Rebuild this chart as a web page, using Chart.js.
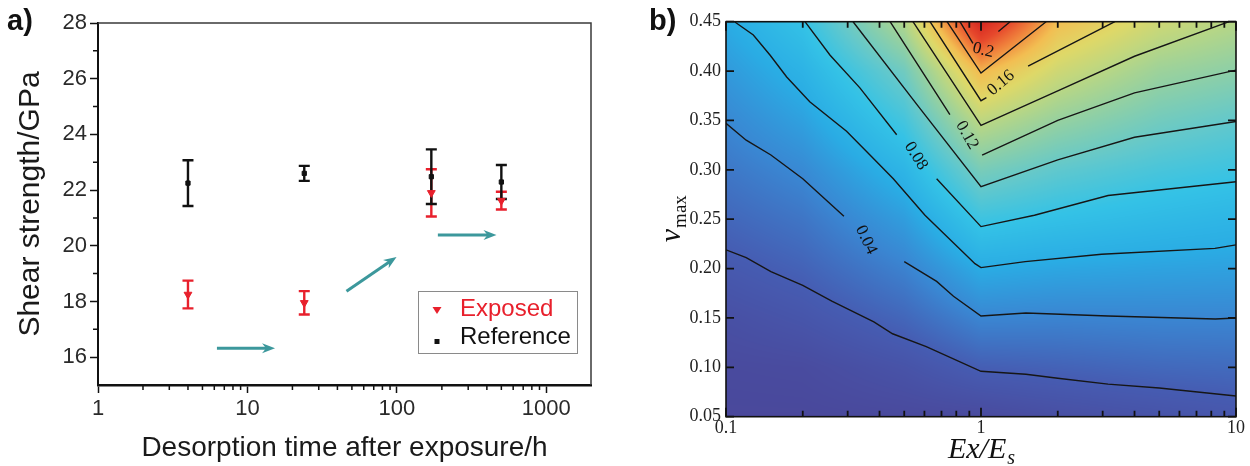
<!DOCTYPE html>
<html>
<head>
<meta charset="utf-8">
<script src="https://cdn.jsdelivr.net/npm/chart.js@4.4.1/dist/chart.umd.min.js"></script>
<style>
  html, body { margin: 0; padding: 0; background: #fff; }
  #wrap { position: relative; width: 1250px; height: 466px; overflow: hidden; }
  #panelA { position: absolute; left: 0; top: 0; }
  #panelB { position: absolute; left: 640px; top: 0; }
  .tag { position: absolute; top: 4px; font: bold 29px "Liberation Sans", Arial, sans-serif; color: #111; }
</style>
</head>
<body>
<div id="wrap">
  <canvas id="panelA" width="620" height="466"></canvas>
  <canvas id="panelB" width="610" height="466"></canvas>
  <div class="tag" style="left:7px">a)</div>
  <div class="tag" style="left:649px">b)</div>
</div>
<script>
// ---------- panel a: shear strength vs desorption time ----------
const desorptionHours = [4, 24, 170, 500];
const exposedStrength = [18.25, 17.95, 21.9, 21.62];
const exposedError = [0.5, 0.42, 0.85, 0.32];
const referenceStrength = [22.25, 22.6, 22.48, 22.29];
const referenceError = [0.82, 0.27, 0.98, 0.61];

const hourTicks = [1, 10, 100, 1000];
const hourMinorTicks = [2, 3, 4, 5, 6, 7, 8, 9, 20, 30, 40, 50, 60, 70, 80, 90, 200, 300, 400, 500, 600, 700, 800, 900];
const strengthTicks = [16, 18, 20, 22, 24, 26, 28];
const strengthMinorTicks = [17, 19, 21, 23, 25, 27];

// trend arrows (start -> end, in hours / GPa)
const arrowFromHours = [6.25, 46, 188];
const arrowFromStrength = [16.32, 18.37, 20.39];
const arrowToHours = [15.3, 99.5, 464];
const arrowToStrength = [16.32, 19.6, 20.39];

// ---------- panel b: contour map over Ex/Es and nu_max ----------
const stiffnessTicks = [0.1, 1, 10];
const stiffnessMinorTicks = [0.2, 0.3, 0.4, 0.5, 0.6, 0.7, 0.8, 0.9, 2, 3, 4, 5, 6, 7, 8, 9];
const poissonTicks = [0.05, 0.10, 0.15, 0.20, 0.25, 0.30, 0.35, 0.40, 0.45];

// sampled field: one row per gridPoisson value, one column per gridStiffness value
const gridStiffness = [0.1, 0.2, 0.5, 1, 2, 5, 10];
const gridPoisson = [0.05, 0.10, 0.15, 0.20, 0.25, 0.30, 0.35, 0.40, 0.45];
const fieldRows = [
  [0.002, 0.002, 0.003, 0.004, 0.008, 0.012, 0.015],
  [0.004, 0.005, 0.012, 0.021, 0.023, 0.026, 0.027],
  [0.009, 0.014, 0.025, 0.040, 0.039, 0.040, 0.040],
  [0.017, 0.023, 0.038, 0.060, 0.057, 0.055, 0.054],
  [0.025, 0.032, 0.052, 0.084, 0.078, 0.072, 0.068],
  [0.033, 0.042, 0.068, 0.111, 0.099, 0.089, 0.084],
  [0.041, 0.054, 0.087, 0.144, 0.125, 0.108, 0.100],
  [0.050, 0.066, 0.107, 0.183, 0.152, 0.128, 0.120],
  [0.060, 0.080, 0.138, 0.245, 0.180, 0.152, 0.140]
];

// contour polylines as [Ex/Es, nu_max]; null leaves room for a level label
const contour002 = [[0.1, 0.219], [0.12, 0.211], [0.15, 0.197], [0.2, 0.183], [0.26, 0.167], [0.38, 0.146], [0.45, 0.134], [0.61, 0.121], [1, 0.096], [1.5, 0.093], [2, 0.089], [3.15, 0.083], [5, 0.079], [10, 0.071]];
const contour004 = [[0.1, 0.347], [0.12, 0.33], [0.15, 0.315], [0.2, 0.291], [0.29, 0.253], null, [0.5, 0.207], [0.67, 0.187], [0.78, 0.172], [1, 0.152], [1.5, 0.155], [3.15, 0.152], [8.3, 0.149], [10, 0.15]];
const contour006 = [[0.108, 0.45], [0.128, 0.4365], [0.149, 0.416], [0.173, 0.394], [0.213, 0.369], [0.297, 0.339], [0.367, 0.315], [0.453, 0.291], [0.603, 0.254], [0.947, 0.205], [1, 0.201], [1.49, 0.207], [2.97, 0.2145], [8.27, 0.2205], [10, 0.224]];
const contour008 = [[0.204, 0.45], [0.256, 0.416], [0.335, 0.383], [0.467, 0.3355], null, [0.67, 0.291], [1, 0.2425], [1.62, 0.254], [3.15, 0.274], [10, 0.288]];
const contour010 = [[0.315, 0.45], [0.561, 0.366], [1, 0.283], [2, 0.31], [4, 0.333], [10, 0.349]];
const contour012 = [[0.44, 0.45], [0.755, 0.356], null, [1.01, 0.315], [2, 0.35], [4, 0.378], [10, 0.401]];
const contour014 = [[0.541, 0.45], [1, 0.345], [2, 0.38], [4, 0.415], [9.4, 0.45]];
const contour016 = [[0.631, 0.45], [1, 0.37], [1.05, 0.373], null, [1.53, 0.405], [3.35, 0.45]];
const contour018 = [[0.736, 0.45], [1, 0.398], [1.8, 0.45]];
const contour020 = [[0.827, 0.45], [0.93, 0.428], null, [1.17, 0.44], [1.3, 0.45]];

const contourLabelText = ["0.04", "0.08", "0.12", "0.16", "0.2"];
const contourLabelStiffness = [0.354, 0.556, 0.881, 1.197, 1.02];
const contourLabelPoisson = [0.229, 0.314, 0.335, 0.388, 0.421];

// ---------- styling ----------
const RED = "#e8202c";
const INK = "#111";
const TEAL = "#3c989c";
const SANS = '"Liberation Sans", Arial, sans-serif';
const SERIF = '"Liberation Serif", "Times New Roman", serif';
const labelAngles = [64, 58, 60, -40, 14];

const colourStops = [
  [0.00, [74, 70, 153]],
  [0.02, [70, 92, 178]],
  [0.04, [58, 134, 210]],
  [0.06, [42, 172, 228]],
  [0.08, [52, 194, 230]],
  [0.10, [98, 200, 204]],
  [0.12, [140, 207, 168]],
  [0.14, [182, 214, 134]],
  [0.16, [222, 216, 104]],
  [0.18, [242, 190, 82]],
  [0.20, [240, 130, 60]],
  [0.22, [230, 72, 44]],
  [0.24, [216, 44, 34]]
];

function colourFor(v) {
  if (v <= colourStops[0][0]) return colourStops[0][1];
  for (let k = 1; k < colourStops.length; k++) {
    if (v <= colourStops[k][0]) {
      const [v0, c0] = colourStops[k - 1], [v1, c1] = colourStops[k];
      const t = (v - v0) / (v1 - v0);
      return [0, 1, 2].map(n => c0[n] + (c1[n] - c0[n]) * t);
    }
  }
  return colourStops[colourStops.length - 1][1];
}

const clamp01 = t => Math.max(0, Math.min(1, t));
const logCols = gridStiffness.map(Math.log10);

function fieldValue(lx, v) {
  let i = 0;
  while (i < logCols.length - 2 && lx > logCols[i + 1]) i++;
  let j = 0;
  while (j < gridPoisson.length - 2 && v > gridPoisson[j + 1]) j++;
  const tx = clamp01((lx - logCols[i]) / (logCols[i + 1] - logCols[i]));
  const ty = clamp01((v - gridPoisson[j]) / (gridPoisson[j + 1] - gridPoisson[j]));
  const lo = fieldRows[j][i] * (1 - tx) + fieldRows[j][i + 1] * tx;
  const hi = fieldRows[j + 1][i] * (1 - tx) + fieldRows[j + 1][i + 1] * tx;
  return lo * (1 - ty) + hi * ty;
}

function toPoints(line) {
  const pts = [];
  line.forEach((p, k) => {
    if (p) pts.push({ x: p[0], y: p[1] });
    else pts.push({ x: line[k - 1][0], y: null });
  });
  return pts;
}

// ---------- panel a plugins ----------
const errorBars = {
  id: "errorBars",
  beforeDatasetsDraw(chart) {
    const { ctx, scales: { x, y } } = chart;
    ctx.save();
    ctx.lineWidth = 2.4;
    chart.data.datasets.forEach(ds => {
      ctx.strokeStyle = ds.borderColor;
      ds.data.forEach((p, j) => {
        const px = x.getPixelForValue(p.x);
        const top = y.getPixelForValue(p.y + ds.errors[j]);
        const bot = y.getPixelForValue(p.y - ds.errors[j]);
        ctx.beginPath();
        ctx.moveTo(px, top); ctx.lineTo(px, bot);
        ctx.moveTo(px - 5.5, top); ctx.lineTo(px + 5.5, top);
        ctx.moveTo(px - 5.5, bot); ctx.lineTo(px + 5.5, bot);
        ctx.stroke();
      });
    });
    ctx.restore();
  }
};

const trendArrows = {
  id: "trendArrows",
  afterDatasetsDraw(chart) {
    const { ctx, scales: { x, y } } = chart;
    ctx.save();
    ctx.strokeStyle = TEAL;
    ctx.fillStyle = TEAL;
    ctx.lineWidth = 3;
    arrowFromHours.forEach((h, i) => {
      const x0 = x.getPixelForValue(h), y0 = y.getPixelForValue(arrowFromStrength[i]);
      const x1 = x.getPixelForValue(arrowToHours[i]), y1 = y.getPixelForValue(arrowToStrength[i]);
      const a = Math.atan2(y1 - y0, x1 - x0), c = Math.cos(a), s = Math.sin(a);
      ctx.beginPath();
      ctx.moveTo(x0, y0);
      ctx.lineTo(x1 - 8 * c, y1 - 8 * s);
      ctx.stroke();
      ctx.beginPath();
      ctx.moveTo(x1, y1);
      ctx.lineTo(x1 - 13 * c + 5 * s, y1 - 13 * s - 5 * c);
      ctx.lineTo(x1 - 9 * c, y1 - 9 * s);
      ctx.lineTo(x1 - 13 * c - 5 * s, y1 - 13 * s + 5 * c);
      ctx.closePath();
      ctx.fill();
    });
    ctx.restore();
  }
};

const frameA = {
  id: "frameA",
  afterDraw(chart) {
    const { ctx, chartArea: a, scales: { x, y } } = chart;
    ctx.save();
    ctx.strokeStyle = "#3a3a3a";
    ctx.lineWidth = 1.5;
    ctx.beginPath();
    ctx.moveTo(a.left, a.top); ctx.lineTo(a.right, a.top); ctx.lineTo(a.right, a.bottom);
    ctx.stroke();
    ctx.strokeStyle = INK;
    ctx.beginPath();
    strengthMinorTicks.forEach(v => {
      const py = y.getPixelForValue(v);
      ctx.moveTo(a.left - 5, py); ctx.lineTo(a.left, py);
    });
    hourMinorTicks.forEach(v => {
      const px = x.getPixelForValue(v);
      ctx.moveTo(px, a.bottom); ctx.lineTo(px, a.bottom + 5);
    });
    ctx.stroke();
    ctx.restore();
  }
};

const legendA = {
  id: "legendA",
  afterDraw(chart) {
    const { ctx, chartArea: a } = chart;
    const w = 159, h = 62, bx = a.right - 14 - w, by = a.bottom - 32 - h;
    ctx.save();
    ctx.fillStyle = "#fff";
    ctx.fillRect(bx, by, w, h);
    ctx.strokeStyle = "#8a8a8a";
    ctx.lineWidth = 1;
    ctx.strokeRect(bx + 0.5, by + 0.5, w, h);
    ctx.font = "24px " + SANS;
    ctx.textBaseline = "middle";
    chart.data.datasets.forEach((ds, i) => {
      const cy = by + 18 + i * 28, mx = bx + 19;
      ctx.fillStyle = ds.backgroundColor;
      ctx.beginPath();
      if (ds.pointStyle === "triangle") {
        ctx.moveTo(mx - 4.5, cy - 2); ctx.lineTo(mx + 4.5, cy - 2); ctx.lineTo(mx, cy + 5);
      } else {
        ctx.rect(mx - 2.5, cy + 2, 5, 5);
      }
      ctx.fill();
      ctx.fillStyle = ds.borderColor;
      ctx.fillText(ds.label, bx + 42, cy);
    });
    ctx.restore();
  }
};

new Chart(document.getElementById("panelA"), {
  type: "scatter",
  data: {
    datasets: [
      {
        label: "Exposed",
        data: desorptionHours.map((h, i) => ({ x: h, y: exposedStrength[i] })),
        errors: exposedError,
        backgroundColor: RED,
        borderColor: RED,
        pointStyle: "triangle",
        rotation: 180,
        pointRadius: 4.5
      },
      {
        label: "Reference",
        data: desorptionHours.map((h, i) => ({ x: h, y: referenceStrength[i] })),
        errors: referenceError,
        backgroundColor: INK,
        borderColor: INK,
        pointStyle: "rect",
        pointRadius: 3
      }
    ]
  },
  options: {
    responsive: false,
    animation: false,
    events: [],
    layout: { padding: { top: 23, right: 29, left: 0, bottom: 0 } },
    plugins: { legend: { display: false }, tooltip: { enabled: false } },
    scales: {
      x: {
        type: "logarithmic",
        min: 1,
        max: 1990,
        afterBuildTicks: s => { s.ticks = hourTicks.map(v => ({ value: v })); },
        afterFit: s => { s.height = 81; },
        ticks: { callback: v => String(v), font: { family: SANS, size: 22 }, color: "#2a2a2a", padding: 3, maxRotation: 0, autoSkip: false },
        grid: { drawOnChartArea: false, drawTicks: true, tickLength: 8, tickWidth: 1.5, tickColor: INK },
        border: { display: true, width: 2.5, color: INK },
        title: { display: true, text: "Desorption time after exposure/h", font: { family: SANS, size: 28 }, color: "#1a1a1a", padding: { top: 0, bottom: 1 } }
      },
      y: {
        type: "linear",
        min: 15,
        max: 28,
        afterBuildTicks: s => { s.ticks = strengthTicks.map(v => ({ value: v })); },
        afterFit: s => { s.width = 98; },
        ticks: { font: { family: SANS, size: 22 }, color: "#2a2a2a", padding: 3 },
        grid: { drawOnChartArea: false, drawTicks: true, tickLength: 8, tickWidth: 1.5, tickColor: INK },
        border: { display: true, width: 2, color: INK },
        title: { display: true, text: "Shear strength/GPa", font: { family: SANS, size: 30 }, color: "#1a1a1a", padding: { top: 13, bottom: 0 } }
      }
    }
  },
  plugins: [errorBars, trendArrows, frameA, legendA]
});

// ---------- panel b plugins ----------
const fieldShading = {
  id: "fieldShading",
  beforeDatasetsDraw(chart) {
    const { ctx, chartArea: a, scales: { x, y } } = chart;
    const x0 = Math.round(a.left), y0 = Math.round(a.top);
    const w = Math.round(a.right) - x0, h = Math.round(a.bottom) - y0;
    const img = ctx.createImageData(w, h);
    for (let j = 0; j < h; j++) {
      const v = y.getValueForPixel(y0 + j + 0.5);
      for (let i = 0; i < w; i++) {
        const lx = Math.log10(x.getValueForPixel(x0 + i + 0.5));
        const c = colourFor(fieldValue(lx, v));
        const k = (j * w + i) * 4;
        img.data[k] = c[0]; img.data[k + 1] = c[1]; img.data[k + 2] = c[2]; img.data[k + 3] = 255;
      }
    }
    ctx.putImageData(img, x0, y0);
  }
};

const contourLabels = {
  id: "contourLabels",
  afterDatasetsDraw(chart) {
    const { ctx, scales: { x, y } } = chart;
    ctx.save();
    ctx.fillStyle = INK;
    ctx.font = "17px " + SERIF;
    ctx.textAlign = "center";
    ctx.textBaseline = "middle";
    contourLabelText.forEach((t, i) => {
      ctx.save();
      ctx.translate(x.getPixelForValue(contourLabelStiffness[i]), y.getPixelForValue(contourLabelPoisson[i]));
      ctx.rotate(labelAngles[i] * Math.PI / 180);
      ctx.fillText(t, 0, 0);
      ctx.restore();
    });
    ctx.restore();
  }
};

const frameB = {
  id: "frameB",
  afterDraw(chart) {
    const { ctx, chartArea: a, scales: { x, y } } = chart;
    ctx.save();
    ctx.strokeStyle = INK;
    ctx.lineWidth = 1.6;
    ctx.strokeRect(a.left, a.top, a.right - a.left, a.bottom - a.top);
    ctx.lineWidth = 1.8;
    ctx.beginPath();
    const xTick = (v, len) => {
      const px = x.getPixelForValue(v);
      ctx.moveTo(px, a.bottom); ctx.lineTo(px, a.bottom - len);
      ctx.moveTo(px, a.top); ctx.lineTo(px, a.top + len);
    };
    stiffnessTicks.forEach(v => xTick(v, 9));
    stiffnessMinorTicks.forEach(v => xTick(v, 6));
    poissonTicks.forEach(v => {
      const py = y.getPixelForValue(v);
      ctx.moveTo(a.left, py); ctx.lineTo(a.left + 8, py);
      ctx.moveTo(a.right, py); ctx.lineTo(a.right - 8, py);
    });
    ctx.stroke();

    // axis titles with subscripts
    ctx.fillStyle = INK;
    ctx.textAlign = "left";
    ctx.textBaseline = "alphabetic";
    const big = "italic 30px " + SERIF, small = "italic 20px " + SERIF;
    ctx.font = big;
    const wMain = ctx.measureText("Ex/E").width;
    ctx.font = small;
    const wSub = ctx.measureText("s").width;
    let sx = (a.left + a.right) / 2 - (wMain + wSub) / 2;
    const by = a.bottom + 41;
    ctx.font = big; ctx.fillText("Ex/E", sx, by);
    ctx.font = small; ctx.fillText("s", sx + wMain + 1, by + 6);

    ctx.translate(a.left - 46, (a.top + a.bottom) / 2);
    ctx.rotate(-Math.PI / 2);
    const nuFont = "italic 30px " + SERIF, maxFont = "19px " + SERIF;
    ctx.font = nuFont;
    const wNu = ctx.measureText("\u03bd").width;
    ctx.font = maxFont;
    const wMax = ctx.measureText("max").width;
    sx = -(wNu + wMax) / 2;
    ctx.font = nuFont; ctx.fillText("\u03bd", sx, 0);
    ctx.font = maxFont; ctx.fillText("max", sx + wNu + 1, 6);
    ctx.restore();
  }
};

const contourLines = [contour002, contour004, contour006, contour008, contour010, contour012, contour014, contour016, contour018, contour020];

new Chart(document.getElementById("panelB"), {
  type: "scatter",
  data: {
    datasets: contourLines.map(line => ({
      data: toPoints(line),
      showLine: true,
      spanGaps: false,
      borderColor: "#161616",
      borderWidth: 1.4,
      pointRadius: 0,
      tension: 0
    }))
  },
  options: {
    responsive: false,
    animation: false,
    events: [],
    layout: { padding: { top: 21.7, right: 14, left: 0, bottom: 0 } },
    plugins: { legend: { display: false }, tooltip: { enabled: false } },
    scales: {
      x: {
        type: "logarithmic",
        min: 0.1,
        max: 10,
        afterBuildTicks: s => { s.ticks = stiffnessTicks.map(v => ({ value: v })); },
        afterFit: s => { s.height = 49.3; },
        ticks: { callback: v => String(v), font: { family: SERIF, size: 18 }, color: "#222", padding: 1, maxRotation: 0, autoSkip: false },
        grid: { display: false, drawTicks: false },
        border: { display: false }
      },
      y: {
        type: "linear",
        min: 0.05,
        max: 0.45,
        afterBuildTicks: s => { s.ticks = poissonTicks.map(v => ({ value: v })); },
        afterFit: s => { s.width = 86; },
        ticks: { callback: v => v.toFixed(2), font: { family: SERIF, size: 18 }, color: "#222", padding: 5 },
        grid: { display: false, drawTicks: false },
        border: { display: false }
      }
    }
  },
  plugins: [fieldShading, contourLabels, frameB]
});
</script>
</body>
</html>
